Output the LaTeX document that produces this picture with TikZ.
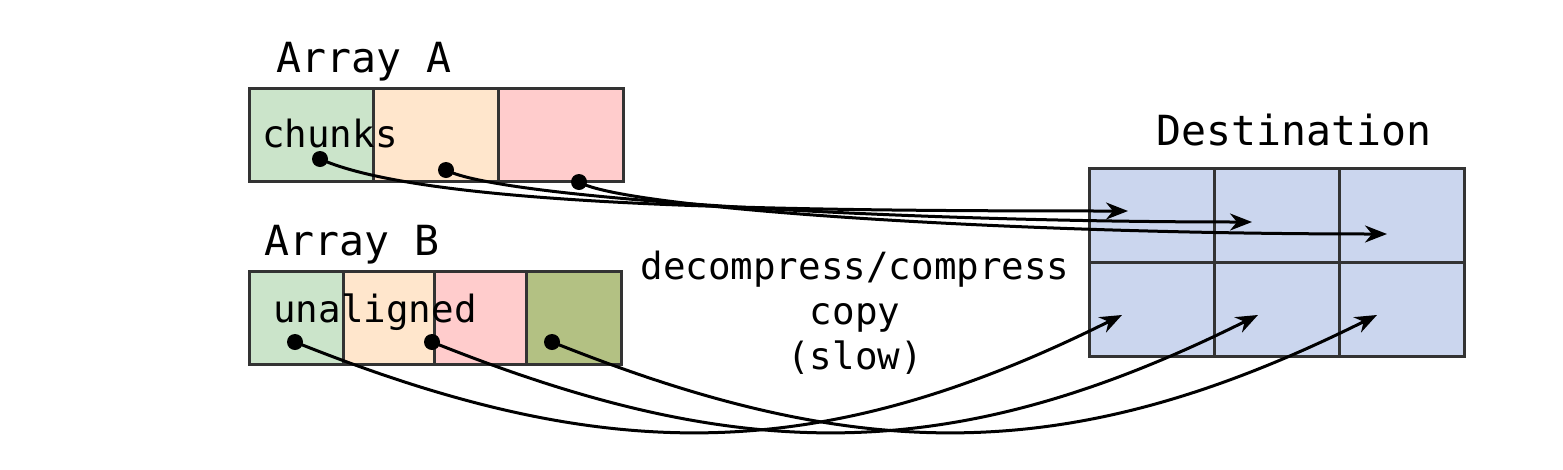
\documentclass[tikz,border=0pt]{standalone}
\usepackage{fontspec}
\setmonofont{DejaVu Sans Mono}
\usepackage{tikz}
\usetikzlibrary{arrows.meta}
\usepackage{xcolor}
\definecolor{mint}{RGB}{203,228,202}
\definecolor{peach}{RGB}{255,230,204}
\definecolor{rose}{RGB}{255,204,204}
\definecolor{olive}{RGB}{179,193,131}
\definecolor{lav}{RGB}{203,214,238}
\definecolor{edge}{RGB}{51,51,51}

\tikzset{
  cell/.style={draw=edge,line width=3pt,inner sep=0pt},
  dot/.style={circle,fill=black,inner sep=0pt,minimum size=16pt},
  big/.style={font=\ttfamily\fontsize{41.5}{50}\selectfont},
  small/.style={font=\ttfamily\fontsize{37.5}{45}\selectfont,align=center},
  link/.style={line width=3pt,-{Stealth[length=22pt,width=17pt,inset=7pt]}}
}

\begin{document}
\begin{tikzpicture}[x=1pt,y=-1pt]
\useasboundingbox (0,0) rectangle (1563,469);
% array A
\node[cell,fill=mint,minimum width=125pt,minimum height=93pt] (a1) at (311.5,134.5) {};
\node[cell,fill=peach,minimum width=125pt,minimum height=93pt] (a2) at (436,134.5) {};
\node[cell,fill=rose,minimum width=125pt,minimum height=93pt] (a3) at (561,134.5) {};
% array B
\node[cell,fill=mint,minimum width=94pt,minimum height=93pt] (b1) at (296,317.5) {};
\node[cell,fill=peach,minimum width=91pt,minimum height=93pt] (b2) at (388.5,317.5) {};
\node[cell,fill=rose,minimum width=92pt,minimum height=93pt] (b3) at (480,317.5) {};
\node[cell,fill=olive,minimum width=95pt,minimum height=93pt] (b4) at (573.5,317.5) {};
% destination
\foreach \i/\x in {1/1151.5,2/1276.5,3/1401.5}{
  \node[cell,fill=lav,minimum width=125pt,minimum height=94pt] (t\i) at (\x,215) {};
  \node[cell,fill=lav,minimum width=125pt,minimum height=94pt] (u\i) at (\x,309) {};
}
% labels
\node[big] (la) at (364,62) {Array A};
\node[big] (lb) at (352,245) {Array B};
\node[big] (ld) at (1294,130) {Destination};
\node[small] (lc) at (330,134) {chunks};
\node[small] (lu) at (375,312) {unaligned};
\node[small] (lm) at (855,313) {decompress/compress\\copy\\(slow)};
% dots and ends
\node[dot] (pa1) at (320,159) {};
\node[dot] (pa2) at (446,170) {};
\node[dot] (pa3) at (579,182) {};
\node[dot] (pb1) at (295,342) {};
\node[dot] (pb2) at (432,342) {};
\node[dot] (pb3) at (552,342) {};
\coordinate (ea1) at (1128,211);
\coordinate (ea2) at (1252,222);
\coordinate (ea3) at (1387,234);
\coordinate (eb1) at (1122,315);
\coordinate (eb2) at (1258,315);
\coordinate (eb3) at (1377,315);
% copies
\draw[link] (pa1.center) .. controls (430,208) and (800,211) .. (ea1);
\draw[link] (pa2.center) .. controls (500,199) and (900,222) .. (ea2);
\draw[link] (pa3.center) .. controls (622,208) and (1000,234) .. (ea3);
\draw[link] (pb1.center) .. controls (602,465) and (815,468) .. (eb1);
\draw[link] (pb2.center) .. controls (739,465) and (951,468) .. (eb2);
\draw[link] (pb3.center) .. controls (859,465) and (1070,468) .. (eb3);
\end{tikzpicture}
\end{document}
